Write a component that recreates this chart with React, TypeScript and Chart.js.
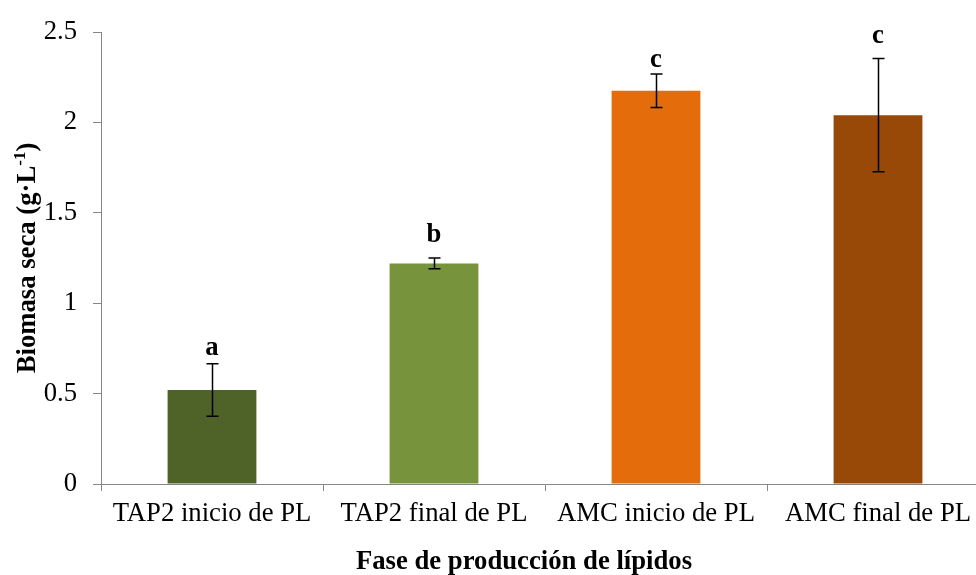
import React, { useEffect, useRef } from "react";
import { Chart, registerables } from "chart.js";

Chart.register(...registerables);

const categories = ["TAP2 inicio de PL", "TAP2 final de PL", "AMC inicio de PL", "AMC final de PL"];
const biomass = [0.52, 1.22, 2.175, 2.04];
const errors = [0.145, 0.03, 0.093, 0.313];
const letters = ["a", "b", "c", "c"];
const barColors = ["#4F6228", "#77933C", "#E46C0A", "#984807"];

const FONT = "'Liberation Serif', 'Times New Roman', serif";
const FS = 26.7;
const letterGap = [9, 16, 7, 16];

const annotate = {
  id: "annotate",
  afterDatasetsDraw(chart: any) {
    const ctx = chart.ctx;
    const y = chart.scales.y;
    const meta = chart.getDatasetMeta(0);
    ctx.save();
    meta.data.forEach((bar: any, i: number) => {
      const x = Math.round(bar.x) + 0.5;
      const top = y.getPixelForValue(biomass[i] + errors[i]);
      const bot = y.getPixelForValue(biomass[i] - errors[i]);
      ctx.strokeStyle = "#000";
      ctx.lineWidth = 1.5;
      ctx.beginPath();
      ctx.moveTo(x, top);
      ctx.lineTo(x, bot);
      ctx.moveTo(x - 6, top);
      ctx.lineTo(x + 6, top);
      ctx.moveTo(x - 6, bot);
      ctx.lineTo(x + 6, bot);
      ctx.stroke();
      ctx.font = `bold ${FS}px ${FONT}`;
      ctx.fillStyle = "#000";
      ctx.textAlign = "center";
      ctx.textBaseline = "alphabetic";
      ctx.fillText(letters[i], bar.x, top - letterGap[i]);
    });
    ctx.restore();
  },
  afterDraw(chart: any) {
    const ctx = chart.ctx;
    const area = chart.chartArea;
    ctx.save();
    ctx.fillStyle = "#000";
    // X axis title
    ctx.font = `bold ${FS}px ${FONT}`;
    ctx.textAlign = "center";
    ctx.textBaseline = "alphabetic";
    ctx.fillText("Fase de producción de lípidos", 524, 569);
    // Y axis title with superscript
    const main = "Biomasa seca (g·L";
    const sup = "-1";
    const close = ")";
    ctx.font = `bold ${FS}px ${FONT}`;
    const wMain = ctx.measureText(main).width;
    const wClose = ctx.measureText(close).width;
    ctx.font = `bold 17px ${FONT}`;
    const wSup = ctx.measureText(sup).width;
    const total = wMain + wSup + wClose;
    const cy = (area.top + area.bottom) / 2;
    ctx.translate(35, cy + total / 2);
    ctx.rotate(-Math.PI / 2);
    ctx.textAlign = "left";
    ctx.font = `bold ${FS}px ${FONT}`;
    ctx.fillText(main, 0, 0);
    ctx.font = `bold 17px ${FONT}`;
    ctx.fillText(sup, wMain, -10);
    ctx.font = `bold ${FS}px ${FONT}`;
    ctx.fillText(close, wMain + wSup, 0);
    ctx.restore();
  },
};

export default function App() {
  const ref = useRef<HTMLCanvasElement>(null);
  useEffect(() => {
    if (!ref.current) return;
    const chart = new Chart(ref.current, {
      type: "bar",
      data: {
        labels: categories,
        datasets: [
          {
            data: biomass,
            backgroundColor: barColors,
            borderWidth: 0,
            categoryPercentage: 1,
            barPercentage: 0.4,
          },
        ],
      },
      options: {
        responsive: false,
        animation: false,
        devicePixelRatio: 1,
        layout: { padding: { left: 0, top: 24, right: 11, bottom: 0 } },
        plugins: { legend: { display: false }, tooltip: { enabled: false } },
        scales: {
          x: {
            type: "category",
            offset: true,
            grid: { offset: true, drawOnChartArea: false, tickLength: 7, color: "#868686" },
            border: { color: "#868686", width: 1 },
            ticks: { font: { family: FONT, size: FS }, color: "#000", padding: 7, maxRotation: 0, autoSkip: false },
            afterFit(s: any) {
              s.height = 91;
            },
          },
          y: {
            min: 0,
            max: 2.5,
            grid: { drawOnChartArea: false, tickLength: 8, color: "#868686" },
            border: { color: "#868686", width: 1 },
            ticks: {
              stepSize: 0.5,
              font: { family: FONT, size: FS },
              color: "#000",
              padding: 16,
              callback: (v: any) => String(Number(v)),
            },
            afterFit(s: any) {
              s.width = 101;
            },
          },
        },
      },
      plugins: [annotate],
    });
    return () => chart.destroy();
  }, []);
  return (
    <div style={{ position: "absolute", left: 0, top: 0, width: 976, height: 575, overflow: "hidden", background: "#fff" }}>
      <canvas ref={ref} width={1000} height={575} style={{ display: "block" }} />
    </div>
  );
}
